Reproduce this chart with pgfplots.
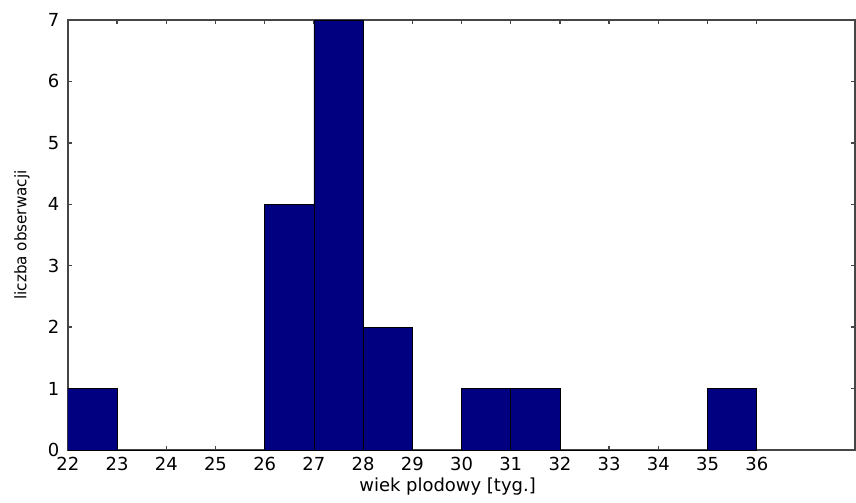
\documentclass[border=0pt]{standalone}
\usepackage{fontspec}
\setmainfont{DejaVu Sans}
\usepackage{pgfplots}
\pgfplotsset{compat=1.18}
\definecolor{barblue}{RGB}{0,0,128}
\definecolor{axisgray}{RGB}{70,70,70}

\begin{document}
\begin{tikzpicture}
  \begin{axis}[
    width=394.5pt, height=215.5pt,
    scale only axis,
    xmin=22, xmax=38,
    ymin=0, ymax=7,
    enlargelimits=false,
    xtick={22,...,36},
    ytick={0,...,7},
    tick align=inside,
    major tick length=2pt,
    axis line style={axisgray, line width=0.8pt},
    tick style={axisgray, line width=0.7pt},
    ticklabel style={font=\fontsize{9}{10}\selectfont},
    yticklabel style={xshift=-0.8pt},
    /pgf/number format/assume math mode=true,
    xlabel={wiek plodowy [tyg.]},
    ylabel={\scalebox{0.95}[1]{liczba obserwacji}},
    every axis x label/.style={at={(axis description cs:0.5,0)},
      anchor=center, yshift=-18.5pt, xshift=-7pt,
      font=\fontsize{9}{10}\selectfont},
    every axis y label/.style={at={(axis description cs:0,0.5)},
      rotate=90, anchor=center, yshift=23pt,
      font=\fontsize{8}{9}\selectfont},
    ]
    \addplot[ybar interval, fill=barblue, draw=black, line width=0.4pt]
      coordinates {(22,1) (23,0) (24,0) (25,0) (26,4) (27,7) (28,2) (29,0)
      (30,1) (31,1) (32,0) (33,0) (34,0) (35,1) (36,0)};
  \end{axis}
  \path ([yshift=10pt]current axis.north west);
  \path ([xshift=-34pt,yshift=-24pt]current axis.south west);
\end{tikzpicture}
\end{document}
